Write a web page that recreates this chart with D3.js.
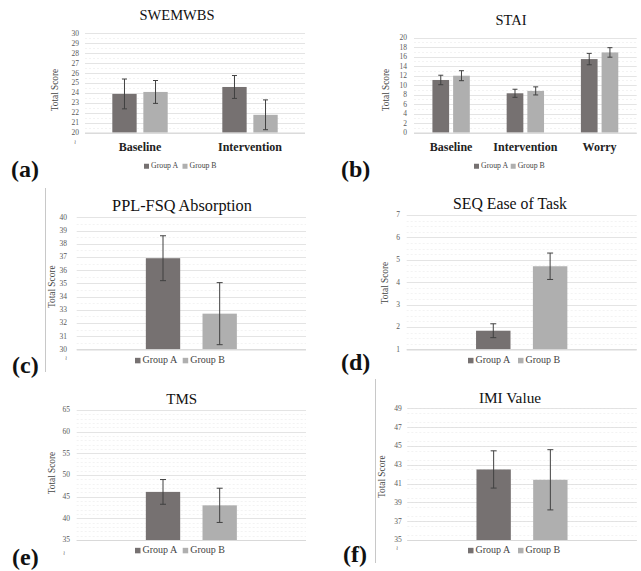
<!DOCTYPE html>
<html lang="en">
<head>
  <meta charset="UTF-8">
  <title>Group A vs Group B scores</title>
  <script src="https://d3js.org/d3.v7.min.js"></script>
  <style>
    body { margin: 0; background: #fff; }
    svg { display: block; font-family: "Liberation Serif", "DejaVu Serif", serif; }
    .tick-label { fill: #595959; }
    .grid-major { stroke: #d9d9d9; stroke-width: 0.7; }
    .grid-minor { stroke: #ebebeb; stroke-width: 0.6; stroke-dasharray: 2,2; }
    .err { stroke: #404040; stroke-width: 1; }
  </style>
</head>
<body>
<svg width="641" height="571"></svg>
<script>
  const groups = ["Group A", "Group B"];
  const colors = ["#767171", "#afafaf"];

  // (a) SWEMWBS
  const swemwbsCats = ["Baseline", "Intervention"];
  const swemwbsA = [23.9, 24.6];
  const swemwbsB = [24.1, 21.8];
  const swemwbsErrA = [1.5, 1.15];
  const swemwbsErrB = [1.15, 1.5];

  // (b) STAI
  const staiCats = ["Baseline", "Intervention", "Worry"];
  const staiA = [11.1, 8.3, 15.5];
  const staiB = [12.0, 8.8, 16.9];
  const staiErrA = [1.0, 0.85, 1.2];
  const staiErrB = [1.05, 0.85, 1.0];

  // (c) PPL-FSQ Absorption
  const pplA = [36.9];
  const pplB = [32.7];
  const pplErrA = [1.7];
  const pplErrB = [2.35];

  // (d) SEQ Ease of Task
  const seqA = [1.83];
  const seqB = [4.71];
  const seqErrA = [0.31];
  const seqErrB = [0.59];

  // (e) TMS
  const tmsA = [46.1];
  const tmsB = [43.0];
  const tmsErrA = [2.85];
  const tmsErrB = [3.95];

  // (f) IMI Value
  const imiA = [42.5];
  const imiB = [41.4];
  const imiErrA = [1.98];
  const imiErrB = [3.2];

  const svg = d3.select("svg");

  // separator lines left of (c) and (f)
  svg.append("line").attr("x1", 45.5).attr("x2", 45.5).attr("y1", 188).attr("y2", 372)
    .attr("stroke", "#c8c8c8");
  svg.append("line").attr("x1", 375.5).attr("x2", 375.5).attr("y1", 379).attr("y2", 563)
    .attr("stroke", "#c8c8c8");

  function drawPanel(p) {
    const g = svg.append("g");
    const y = d3.scaleLinear().domain(p.domain).range([p.bottom, p.top]);
    const x0 = d3.scaleBand().domain(p.cats).range([p.left, p.right]);
    const x1 = d3.scaleBand().domain(groups).range([0, x0.bandwidth()])
      .paddingInner(p.padIn).paddingOuter(p.padOut);

    // minor gridlines
    const minor = d3.range(p.domain[0], p.domain[1] + 1e-9, p.minor)
      .filter(v => Math.abs(v / p.step - Math.round(v / p.step)) > 1e-6);
    g.selectAll(".grid-minor").data(minor).join("line")
      .attr("class", "grid-minor")
      .attr("x1", p.left).attr("x2", p.right)
      .attr("y1", d => Math.round(y(d)) + 0.5).attr("y2", d => Math.round(y(d)) + 0.5);

    const ticks = d3.range(p.domain[0], p.domain[1] + 1e-9, p.step);
    g.selectAll(".grid-major").data(ticks).join("line")
      .attr("class", "grid-major")
      .attr("x1", p.left).attr("x2", p.right)
      .attr("y1", d => Math.round(y(d)) + 0.5).attr("y2", d => Math.round(y(d)) + 0.5);

    g.selectAll(".tick-label").data(ticks).join("text")
      .attr("class", "tick-label")
      .attr("x", p.tickX).attr("y", d => y(d)).attr("dy", "0.33em")
      .attr("text-anchor", "end").attr("font-size", p.tickSize)
      .text(d => d);

    // small axis-break squiggle under the lowest tick
    if (p.breakMark) {
      g.append("text").attr("class", "tick-label")
        .attr("x", p.breakMark[0]).attr("y", p.breakMark[1])
        .attr("text-anchor", "middle").attr("font-size", 6)
        .text("≀");
    }

    // bars
    const rows = [];
    p.cats.forEach((c, i) => {
      groups.forEach((grp, k) => {
        rows.push({ cat: c, grp, k, v: p.values[k][i], e: p.errs[k][i] });
      });
    });

    g.selectAll(".bar").data(rows).join("rect")
      .attr("class", "bar")
      .attr("x", d => x0(d.cat) + x1(d.grp))
      .attr("width", x1.bandwidth())
      .attr("y", d => y(d.v))
      .attr("height", d => y(p.domain[0]) - y(d.v))
      .attr("fill", d => colors[d.k]);

    // baseline axis
    g.append("line").attr("x1", p.left).attr("x2", p.right)
      .attr("y1", y(p.domain[0]) + 0.5).attr("y2", y(p.domain[0]) + 0.5)
      .attr("stroke", "#d9d9d9").attr("stroke-width", 1.2);

    // error bars
    const eb = g.selectAll(".eb").data(rows).join("g").attr("class", "eb")
      .attr("transform", d => `translate(${x0(d.cat) + x1(d.grp) + x1.bandwidth() / 2},0)`);
    eb.append("line").attr("class", "err")
      .attr("x1", 0).attr("x2", 0)
      .attr("y1", d => y(d.v + d.e)).attr("y2", d => y(d.v - d.e));
    eb.append("line").attr("class", "err")
      .attr("x1", -p.cap).attr("x2", p.cap)
      .attr("y1", d => y(d.v + d.e)).attr("y2", d => y(d.v + d.e));
    eb.append("line").attr("class", "err")
      .attr("x1", -p.cap).attr("x2", p.cap)
      .attr("y1", d => y(d.v - d.e)).attr("y2", d => y(d.v - d.e));

    // category labels
    if (p.catLabels) {
      g.selectAll(".cat").data(p.cats).join("text")
        .attr("class", "cat")
        .attr("x", d => x0(d) + x0.bandwidth() / 2)
        .attr("y", p.catY)
        .attr("text-anchor", "middle")
        .attr("font-size", 12).attr("font-weight", "bold").attr("fill", "#222")
        .text(d => d);
    }

    // title
    g.append("text")
      .attr("x", p.titleX).attr("y", p.titleY)
      .attr("text-anchor", "middle").attr("font-size", p.titleSize).attr("fill", "#111")
      .text(p.title);

    // y axis title
    g.append("text")
      .attr("transform", `translate(${p.ylabX},${p.ylabY}) rotate(-90)`)
      .attr("text-anchor", "middle").attr("font-size", 9.3).attr("fill", "#444")
      .text("Total Score");

    // legend
    const lg = g.append("g").attr("transform", `translate(${p.legX},${p.legY})`);
    groups.forEach((grp, k) => {
      const ox = p.legOff[k];
      lg.append("rect").attr("x", ox).attr("y", -p.legSw * 0.85)
        .attr("width", p.legSw).attr("height", p.legSw).attr("fill", colors[k]);
      lg.append("text").attr("x", ox + p.legSw + 2).attr("y", 0)
        .attr("font-size", p.legSize).attr("fill", "#444").text(grp);
    });

    // panel letter
    svg.append("text")
      .attr("x", p.letterX).attr("y", p.letterY)
      .attr("font-size", 24).attr("font-weight", "bold").attr("fill", "#111")
      .text(p.letter);
  }

  drawPanel({
    title: "SWEMWBS", titleX: 177, titleY: 20, titleSize: 14.5,
    cats: swemwbsCats, values: [swemwbsA, swemwbsB], errs: [swemwbsErrA, swemwbsErrB],
    domain: [20, 30], step: 1, minor: 0.5,
    left: 85, right: 305, top: 33.3, bottom: 132.7,
    padIn: 0.216, padOut: 0.88, cap: 2.5,
    tickX: 79, tickSize: 7.5, breakMark: [75, 144],
    catLabels: true, catY: 150.7,
    ylabX: 58, ylabY: 90,
    legX: 144, legY: 168, legOff: [0, 38.5], legSw: 5, legSize: 7.8,
    letter: "(a)", letterX: 11, letterY: 177
  });

  drawPanel({
    title: "STAI", titleX: 511, titleY: 25, titleSize: 14.5,
    cats: staiCats, values: [staiA, staiB], errs: [staiErrA, staiErrB],
    domain: [0, 20], step: 2, minor: 1,
    left: 414, right: 636.7, top: 37.7, bottom: 132.7,
    padIn: 0.194, padOut: 0.89, cap: 2.5,
    tickX: 407, tickSize: 7.5, breakMark: null,
    catLabels: true, catY: 150.7,
    ylabX: 389, ylabY: 90,
    legX: 474, legY: 168, legOff: [0, 36.7], legSw: 5, legSize: 7.8,
    letter: "(b)", letterX: 341, letterY: 177
  });

  drawPanel({
    title: "PPL-FSQ Absorption", titleX: 182, titleY: 210.7, titleSize: 16.3,
    cats: ["all"], values: [pplA, pplB], errs: [pplErrA, pplErrB],
    domain: [30, 40], step: 1, minor: 0.5,
    left: 76.7, right: 306, top: 217.3, bottom: 349.3,
    padIn: 0.394, padOut: 1.22, cap: 3,
    tickX: 67, tickSize: 7.5, breakMark: [66, 360],
    catLabels: false,
    ylabX: 54.5, ylabY: 286.7,
    legX: 135, legY: 362.5, legOff: [0, 47.7], legSw: 5.5, legSize: 10,
    letter: "(c)", letterX: 12, letterY: 373
  });

  drawPanel({
    title: "SEQ Ease of Task", titleX: 510, titleY: 209, titleSize: 15.8,
    cats: ["all"], values: [seqA, seqB], errs: [seqErrA, seqErrB],
    domain: [1, 7], step: 1, minor: 0.25,
    left: 406.7, right: 636.7, top: 215, bottom: 349.3,
    padIn: 0.394, padOut: 1.22, cap: 3,
    tickX: 400, tickSize: 7.5, breakMark: null,
    catLabels: false,
    ylabX: 388, ylabY: 283,
    legX: 468, legY: 362.5, legOff: [0, 50], legSw: 5.5, legSize: 10,
    letter: "(d)", letterX: 341, letterY: 370
  });

  drawPanel({
    title: "TMS", titleX: 181.7, titleY: 404, titleSize: 15,
    cats: ["all"], values: [tmsA, tmsB], errs: [tmsErrA, tmsErrB],
    domain: [35, 65], step: 5, minor: 1,
    left: 76.7, right: 306, top: 410, bottom: 540,
    padIn: 0.394, padOut: 1.22, cap: 3,
    tickX: 70, tickSize: 7.5, breakMark: [64, 554.5],
    catLabels: false,
    ylabX: 54.5, ylabY: 473,
    legX: 135, legY: 552.5, legOff: [0, 47.7], legSw: 5.5, legSize: 10,
    letter: "(e)", letterX: 12, letterY: 565
  });

  drawPanel({
    title: "IMI Value", titleX: 510, titleY: 402.7, titleSize: 15.3,
    cats: ["all"], values: [imiA, imiB], errs: [imiErrA, imiErrB],
    domain: [35, 49], step: 2, minor: 0.5,
    left: 407.3, right: 636.7, top: 408.3, bottom: 540,
    padIn: 0.394, padOut: 1.22, cap: 3,
    tickX: 401.7, tickSize: 7.5, breakMark: [397, 550],
    catLabels: false,
    ylabX: 384.5, ylabY: 476.7,
    legX: 468, legY: 552.5, legOff: [0, 50], legSw: 5.5, legSize: 10,
    letter: "(f)", letterX: 343, letterY: 561.7
  });
</script>
</body>
</html>
